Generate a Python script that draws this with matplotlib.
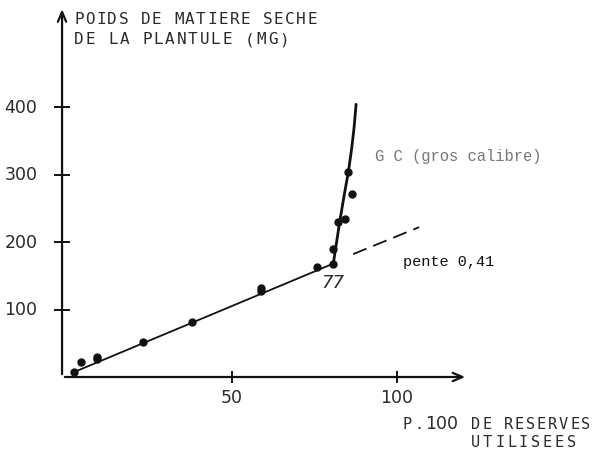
import matplotlib
matplotlib.use("Agg")
import matplotlib.pyplot as plt

# --- data ---
pts_x = [2.1, 4.3, 9.0, 9.0, 22.9, 37.9, 58.7, 58.7, 75.7, 80.7, 80.7, 82.2, 84.2, 86.5, 85.2]
pts_y = [7, 22, 26, 30, 52, 82, 128, 132, 163, 168, 189, 230, 234, 271, 303]

line_x = [2.0, 80.7]
line_y = [7, 168]

dash_x = [86.7, 106.7]
dash_y = [182, 222]

curve_x = [80.7, 82.6, 84.2, 85.3, 86.3, 87.0, 87.6]
curve_y = [168, 229, 275, 305, 340, 370, 404]

xticks = [50, 100]
yticks = [100, 200, 300, 400]

# pixel mapping: x0 px=67, 3.3 px/unit ; y0 px=378, 0.675 px/unit
W, H = 592, 456
X0, SX = 67.0, 3.3
Y0, SY = 378.0, 0.675

fig = plt.figure(figsize=(W / 100, H / 100), dpi=100)
ax = fig.add_axes([0, 0, 1, 1])
ax.set_xlim(-X0 / SX, (W - X0) / SX)
ax.set_ylim((Y0 - H) / SY, Y0 / SY)
ax.axis("off")


def px(x):
    return (x - X0) / SX


def py(y):
    return (Y0 - y) / SY


def spaced(x0, y0, s, pitch, size, color):
    """Letter-spaced text, one glyph per cell."""
    for i, ch in enumerate(s):
        if ch != " ":
            ax.text(px(x0 + i * pitch), py(y0), ch, ha="left", va="center",
                    family="DejaVu Sans Mono", fontsize=size, color=color)


k = "#111111"
tc = "#2a2a2a"
# axes with arrows
xa0 = -1.5
ax.annotate("", xy=(121.5, 0), xytext=(xa0, 0),
            arrowprops=dict(arrowstyle="->,head_length=0.7,head_width=0.3", lw=1.6, color=k))
ax.annotate("", xy=(xa0, 549), xytext=(xa0, 0),
            arrowprops=dict(arrowstyle="->,head_length=0.7,head_width=0.3", lw=1.6, color=k))

# ticks (small crosses)
for t in xticks:
    ax.plot([t, t], [-8, 8], color=k, lw=1.4)
    ax.text(t, -16, str(t), ha="center", va="top", fontsize=12.5, color=tc,
            family="DejaVu Sans")
for t in yticks:
    ax.plot([xa0 - 2.0, xa0 + 2.0], [t, t], color=k, lw=1.4)
    ax.text(xa0 - 7.5, t, str(t), ha="right", va="center", fontsize=12.5, color=tc,
            family="DejaVu Sans")

# data
ax.plot(line_x, line_y, color=k, lw=1.3)
ax.plot(curve_x, curve_y, color=k, lw=2.0, solid_capstyle="round")
ax.plot(dash_x, dash_y, color=k, lw=1.3, dashes=(8, 4))
ax.plot(pts_x, pts_y, "o", color=k, ms=5, mec=k)

# labels
spaced(74, 20, "POIDS DE MATIERE SECHE", 11.1, 11.5, tc)
spaced(74, 40, "DE LA PLANTULE (MG)", 11.4, 11.5, tc)

ax.text(px(375), py(157), "G C (gros calibre)", ha="left", va="center",
        family="Liberation Mono", fontsize=11.2, color="#777777")
ax.text(px(403), py(262), "pente 0,41", ha="left", va="center",
        family="Liberation Mono", fontsize=11, color="#111111")
ax.text(px(333), py(283), "77", ha="center", va="center",
        family="DejaVu Sans", fontsize=13, color=tc, style="italic")

spaced(402, 425, "P.", 12.5, 11, tc)
ax.text(px(425), py(424), "100", ha="left", va="center",
        family="DejaVu Sans", fontsize=12.5, color=tc)
spaced(471, 425, "DE RESERVES", 11.0, 11, tc)
spaced(471, 443, "UTILISEES", 12.0, 11, tc)

fig.savefig("out.png", dpi=100)
